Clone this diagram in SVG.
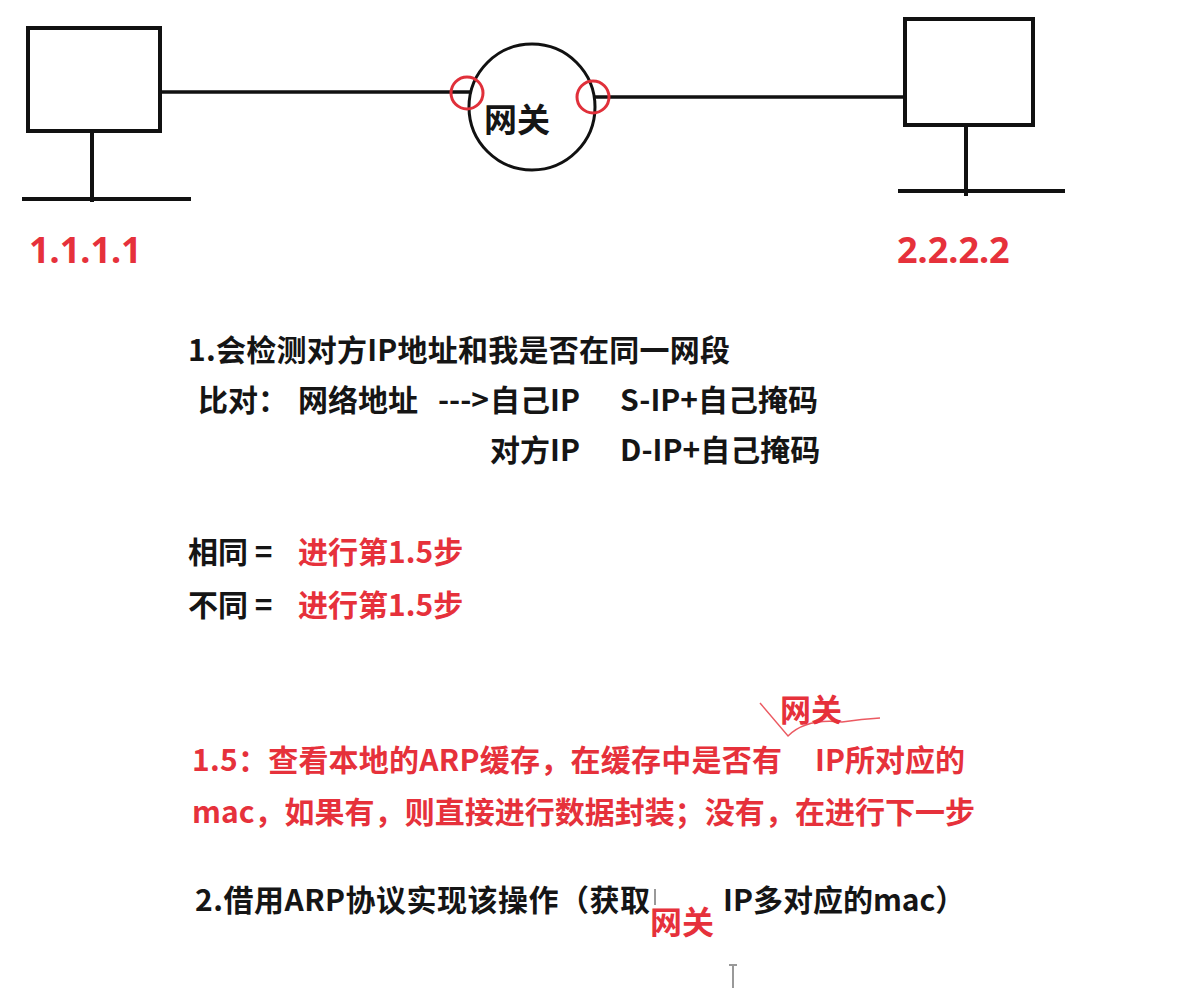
<svg xmlns="http://www.w3.org/2000/svg" width="1188" height="988" viewBox="0 0 1188 988">
  <style>
    .bg { fill: #ffffff; }
    .box { fill: none; stroke: #111; stroke-width: 4; }
    .wire { fill: none; stroke: #111; stroke-width: 3.5; }
    .gw { fill: #fff; stroke: #111; stroke-width: 3; }
    .port { fill: none; stroke: #e0303a; stroke-width: 3; }
    .t { font-family: "Noto Sans CJK SC", "Noto Sans", sans-serif; font-weight: 700; font-size: 30px; fill: #151515; }
    .r { fill: #e6313b; }
    .ip { font-family: "Noto Sans", "Noto Sans CJK SC", sans-serif; font-weight: 700; font-size: 36px; fill: #e6313b; }
    .caret { fill: none; stroke: #e6313b; stroke-width: 1.5; opacity: 0.8; }
    .cursor { fill: none; stroke: #999; stroke-width: 2; }
  </style>
  <rect class="bg" x="0" y="0" width="1188" height="988"/>

  <g id="connectors">
    <line class="wire" x1="160" y1="92" x2="471" y2="92"/>
    <line class="wire" x1="594" y1="97" x2="906" y2="97"/>
  </g>

  <g id="host-1">
    <rect class="box" x="28" y="28" width="132" height="103"/>
    <line class="box" x1="92" y1="131" x2="92" y2="202"/>
    <line class="box" x1="22" y1="199" x2="191" y2="199"/>
    <text class="ip" x="29" y="263">1.1.1.1</text>
  </g>

  <g id="gateway">
    <circle class="gw" cx="532" cy="107" r="63"/>
    <circle class="port" cx="467" cy="93" r="16"/>
    <circle class="port" cx="593" cy="97" r="16"/>
    <text class="t" x="484" y="132" style="font-size:33px">网关</text>
  </g>

  <g id="host-2">
    <rect class="box" x="905" y="19" width="128" height="106"/>
    <line class="box" x1="966" y1="125" x2="966" y2="196"/>
    <line class="box" x1="898" y1="191" x2="1065" y2="191"/>
    <text class="ip" x="897" y="263">2.2.2.2</text>
  </g>

  <g id="step-1">
    <text class="t" x="188" y="361" textLength="542">1.会检测对方IP地址和我是否在同一网段</text>
    <text class="t" x="198" y="411">比对：</text>
    <text class="t" x="298" y="411">网络地址</text>
    <text class="t" x="489" y="411" text-anchor="end">---&gt;</text>
    <text class="t" x="490" y="411">自己IP</text>
    <text class="t" x="620" y="411">S-IP+自己掩码</text>
    <text class="t" x="490" y="461">对方IP</text>
    <text class="t" x="620" y="461">D-IP+自己掩码</text>
  </g>

  <g id="compare">
    <text class="t" x="188" y="563">相同 =</text>
    <text class="t r" x="298" y="563">进行第1.5步</text>
    <text class="t" x="188" y="616">不同 =</text>
    <text class="t r" x="298" y="616">进行第1.5步</text>
  </g>

  <g id="step-1-5">
    <text class="t r" x="780" y="721" style="font-size:31px">网关</text>
    <path class="caret" d="M760 703 L788 736 Q806 718 842 722 Q862 719 880 718"/>
    <text class="t r" x="192" y="771" textLength="590">1.5：查看本地的ARP缓存，在缓存中是否有</text>
    <text class="t r" x="815" y="771" textLength="150">IP所对应的</text>
    <text class="t r" x="192" y="823" textLength="783">mac，如果有，则直接进行数据封装；没有，在进行下一步</text>
  </g>

  <g id="step-2">
    <text class="t" x="195" y="911" textLength="455">2.借用ARP协议实现该操作（获取</text>
    <path class="cursor" d="M655 889 L655 905"/>
    <text class="t" x="723" y="911">IP多对应的mac）</text>
    <text class="t r" x="650" y="934" style="font-size:32px">网关</text>
    <path class="cursor" d="M733 965 L733 988 M729 965 L737 965"/>
  </g>
</svg>
